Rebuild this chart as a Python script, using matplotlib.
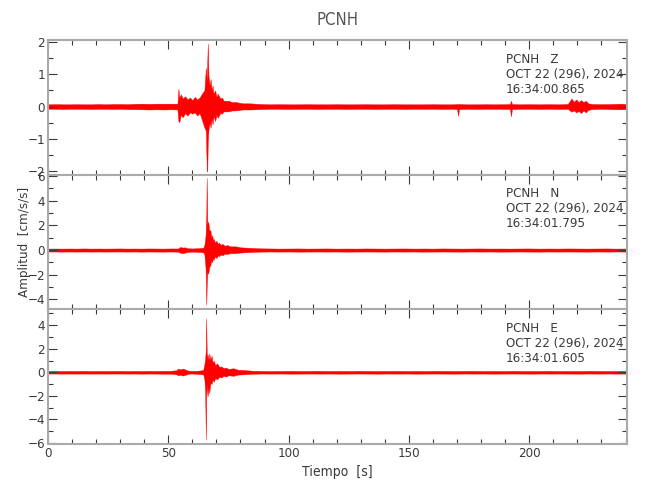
import numpy as np
import matplotlib.pyplot as plt
from matplotlib.ticker import MultipleLocator

plt.rcParams['font.family'] = ['DejaVu Sans']
plt.rcParams['font.stretch'] = 'condensed'

# envelope of each trace (upper / lower value at each time)
t_z = [0, 3, 6, 9, 12, 15, 18, 21, 24, 27, 30, 33, 36, 39, 42, 45, 48, 51, 53.8,
       54.2, 54.6, 55.2, 56, 57, 58, 59, 60, 61, 62, 63, 64, 65, 65.6, 66.0, 66.2, 66.4,
       66.7, 67.2, 67.6, 68, 68.4, 68.8, 69.5, 70.0, 70.5, 71.6, 72.3, 73, 75, 76.5, 78, 81, 84, 88,
       92, 96, 100, 104, 108, 112, 116, 120, 124, 128, 132, 136, 140, 144, 148, 152,
       156, 160, 164, 168, 170.0, 170.4, 170.8, 174, 178, 182, 186, 190, 192.0, 192.4,
       192.8, 196, 200, 204, 208, 212, 216, 217.5, 218.5, 219.5, 220.5, 221.5, 222.5,
       223.5, 224.5, 226, 230, 234, 238, 240.6]
up_z = [.07, .075, .07, .07, .075, .07, .07, .08, .07, .08, .08, .075, .085, .09, .085, .09, .09, .09, .09,
        .55, .28, .38, .25, .32, .22, .28, .2, .3, .22, .28, .4, .5, 1.2, .8, 1.4, 1.95,
        .95, .65, .85, .5, .65, .4, .5, .3, .4, .25, .28, .18, .18, .14, .14, .1, .1, .08,
        .07, .075, .07, .07, .075, .07, .07, .075, .07, .07, .075, .07, .07, .075, .07, .07,
        .07, .075, .07, .07, .08, .08, .08, .07, .07, .075, .07, .075, .08, .18,
        .08, .07, .075, .07, .075, .07, .08, .25, .15, .22, .14, .2, .14,
        .18, .1, .08, .075, .08, .09, .08]
lo_z = [-.07, -.07, -.075, -.07, -.07, -.07, -.075, -.07, -.07, -.075, -.07, -.08, -.08, -.085, -.09, -.085, -.09, -.085, -.09,
        -.45, -.48, -.25, -.33, -.2, -.28, -.18, -.22, -.18, -.28, -.2, -.42, -.65, -.75, -2.0, -2.0, -1.1,
        -.72, -.5, -.65, -.38, -.55, -.3, -.45, -.25, -.35, -.2, -.22, -.15, -.15, -.12, -.12, -.09, -.09, -.08,
        -.07, -.07, -.075, -.07, -.07, -.075, -.07, -.07, -.075, -.07, -.07, -.075, -.07, -.07, -.075, -.07,
        -.07, -.07, -.075, -.07, -.08, -.29, -.08, -.07, -.075, -.07, -.07, -.075, -.08, -.3,
        -.08, -.07, -.07, -.075, -.07, -.075, -.07, -.16, -.12, -.18, -.14, -.2, -.12,
        -.18, -.1, -.08, -.07, -.08, -.085, -.08]

t_n = [0, 3, 6, 9, 12, 15, 18, 21, 24, 27, 30, 33, 36, 39, 42, 45, 48, 51, 54,
       55, 56, 57, 58, 60, 62, 64.5, 65.0, 65.5, 65.8, 65.95, 66.2, 66.6, 67.0, 67.5,
       67.9, 68.2, 68.6, 68.9, 69.4, 70.0, 70.6, 71.1, 71.7, 72.5, 73.5, 74.5, 75.8, 78, 80, 84, 88,
       92, 96, 100, 104, 108, 112, 116, 120, 124, 128, 132, 136, 140, 144, 148, 152,
       156, 160, 164, 168, 172, 176, 180, 184, 188, 192, 196, 200, 204, 208, 212, 216,
       220, 224, 228, 232, 236, 240.6]
up_n = [.12, .125, .12, .125, .12, .13, .12, .125, .12, .125, .13, .12, .125, .12, .13, .125, .12, .13, .13,
        .25, .2, .22, .15, .13, .15, .18, .4, 1.2, 3.0, 5.85, 2.1, 2.3, 1.6, 1.6,
        1.0, 1.2, .8, .9, .6, .75, .5, .6, .42, .5, .35, .4, .3, .3, .22, .18, .14,
        .13, .12, .125, .13, .12, .125, .13, .12, .125, .12, .13, .125, .12, .125, .13, .12,
        .125, .12, .13, .125, .12, .125, .13, .12, .125, .12, .125, .13, .12, .125, .12, .13,
        .125, .12, .125, .13, .12, .125]
lo_n = [-.12, -.12, -.125, -.12, -.125, -.12, -.125, -.12, -.125, -.12, -.12, -.125, -.12, -.13, -.12, -.125, -.13, -.12, -.13,
        -.22, -.25, -.2, -.15, -.13, -.14, -.18, -.35, -1.5, -4.43, -3.0, -1.8, -1.9, -1.4, -1.2,
        -.8, -1.0, -.65, -.78, -.5, -.65, -.42, -.5, -.36, -.42, -.3, -.32, -.25, -.25, -.2, -.16, -.13,
        -.12, -.125, -.12, -.13, -.125, -.12, -.125, -.12, -.13, -.125, -.12, -.125, -.13, -.12, -.125, -.12,
        -.13, -.125, -.12, -.125, -.13, -.12, -.125, -.12, -.13, -.125, -.12, -.125, -.13, -.12, -.125, -.12,
        -.125, -.13, -.12, -.125, -.12, -.125]

t_e = [0, 3, 6, 9, 12, 15, 18, 21, 24, 27, 30, 33, 36, 39, 42, 45, 48, 51, 53.5,
       54, 55, 56, 57, 57.7, 58.5, 60, 62, 64.5, 65.0, 65.3, 65.6, 65.75, 66.0, 66.3,
       66.8, 67.0, 67.5, 68.0, 68.4, 68.9, 69.5, 70.3, 71.2, 72, 73, 74, 75, 77, 78.9, 82, 85,
       89, 93, 97, 101, 105, 109, 113, 117, 121, 125, 129, 133, 137, 141, 145, 149,
       153, 157, 161, 165, 169, 173, 177, 181, 185, 189, 193, 197, 201, 205, 209, 213,
       217, 221, 225, 229, 233, 237, 240.6]
up_e = [.11, .115, .11, .115, .11, .12, .11, .115, .11, .115, .12, .11, .115, .11, .12, .115, .12, .12, .18,
        .32, .24, .32, .24, .18, .13, .12, .13, .18, .7, 1.1, 2.0, 4.58, 1.2, 1.5,
        1.0, 1.6, 1.1, 1.4, .8, 1.0, .6, .76, .45, .5, .35, .4, .28, .34, .22, .18, .13,
        .12, .11, .115, .12, .11, .115, .12, .11, .115, .11, .12, .115, .11, .115, .12, .11,
        .115, .11, .12, .115, .11, .115, .12, .11, .115, .11, .12, .115, .11, .115, .12, .11,
        .115, .11, .12, .115, .11, .115, .115]
lo_e = [-.11, -.11, -.115, -.11, -.115, -.11, -.115, -.11, -.115, -.11, -.11, -.115, -.11, -.12, -.11, -.115, -.12, -.12, -.18,
        -.26, -.22, -.28, -.22, -.18, -.12, -.11, -.13, -.18, -.6, -1.5, -5.73, -2.0, -1.0, -2.06,
        -1.3, -1.78, -.9, -1.0, -.65, -.8, -.5, -.6, -.38, -.45, -.3, -.37, -.25, -.3, -.2, -.16, -.13,
        -.11, -.115, -.11, -.12, -.115, -.11, -.115, -.11, -.12, -.115, -.11, -.115, -.12, -.11, -.115, -.11,
        -.12, -.115, -.11, -.115, -.12, -.11, -.115, -.11, -.12, -.115, -.11, -.115, -.12, -.11, -.115, -.11,
        -.115, -.12, -.11, -.115, -.11, -.115, -.115]

channels = ['Z', 'N', 'E']
start_times = ['16:34:00.865', '16:34:01.795', '16:34:01.605']
date_str = 'OCT 22 (296), 2024'
ylims = [(-2.11, 2.06), (-4.8, 6.1), (-6.1, 5.35)]
ymajor = [1, 2, 2]
yminor = [0.5, 1, 1]
traces = [(t_z, up_z, lo_z), (t_n, up_n, lo_n), (t_e, up_e, lo_e)]

txt = '#3a3a3a'
spine_c = '#aaaaaa'

fig = plt.figure(figsize=(6.5, 5), dpi=100)
left, width = 0.0738, 0.8908
h = 0.2693
bottoms = [0.112 + 2 * h, 0.112 + h, 0.112]

for i in range(3):
    ax = fig.add_axes([left, bottoms[i], width, h])
    t, up, lo = traces[i]
    ax.fill_between(t, lo, up, color='red', edgecolor='red', linewidth=0.3)
    ax.set_xlim(0, 240.6)
    ax.set_ylim(ylims[i])
    ax.xaxis.set_major_locator(MultipleLocator(50))
    ax.xaxis.set_minor_locator(MultipleLocator(10))
    ax.yaxis.set_major_locator(MultipleLocator(ymajor[i]))
    ax.yaxis.set_minor_locator(MultipleLocator(yminor[i]))
    ax.tick_params(which='both', direction='in', top=True, right=True,
                   color=txt, labelcolor=txt, labelsize=9.5, width=0.8, pad=2)
    ax.tick_params(which='major', length=6.5)
    ax.tick_params(which='minor', length=3.6)
    for s in ax.spines.values():
        s.set_color(spine_c)
        s.set_linewidth(1.5)
    if i < 2:
        ax.tick_params(labelbottom=False)
    else:
        ax.set_xlabel('Tiempo  [s]', color=txt, fontsize=10, labelpad=4)
    ax.text(0.791, 0.857, 'PCNH   ' + channels[i], transform=ax.transAxes,
            va='center', color=txt, fontsize=9.5)
    ax.text(0.791, 0.746, date_str, transform=ax.transAxes,
            va='center', color=txt, fontsize=9.5)
    ax.text(0.791, 0.634, start_times[i], transform=ax.transAxes,
            va='center', color=txt, fontsize=9.5)

fig.text(0.519, 0.96, 'PCNH', ha='center', va='center', color='#555555', fontsize=12)
fig.text(0.037, 0.516, 'Amplitud  [cm/s/s]', rotation=90, ha='center', va='center',
         color=txt, fontsize=9.5)

plt.savefig('out.png', dpi=100)
